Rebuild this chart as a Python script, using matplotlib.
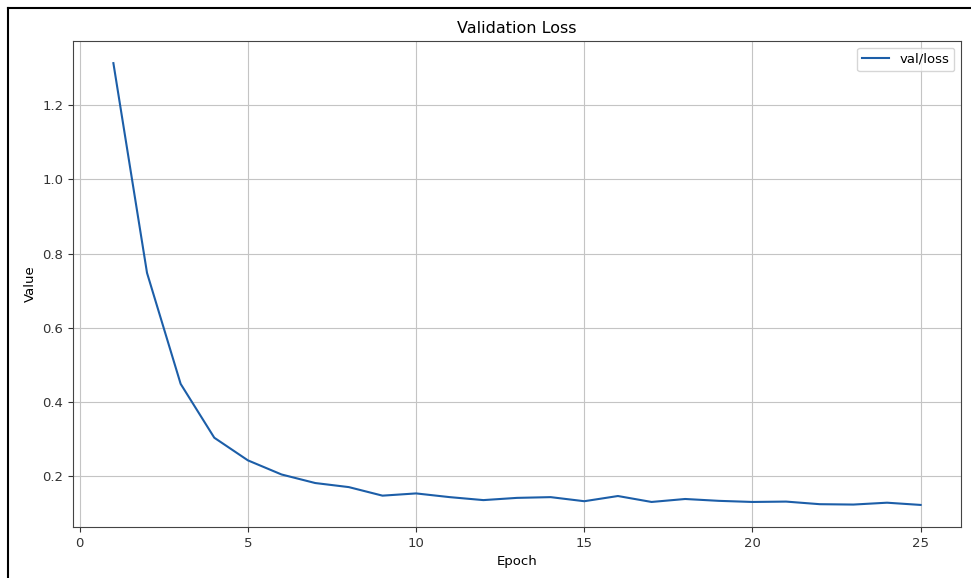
import matplotlib
matplotlib.use("Agg")
import matplotlib.pyplot as plt
from matplotlib.lines import Line2D

epochs = list(range(1, 26))
val_loss = [1.313, 0.748, 0.449, 0.304, 0.243, 0.205, 0.182, 0.171, 0.148, 0.154,
            0.144, 0.136, 0.142, 0.144, 0.133, 0.147, 0.131, 0.139, 0.134, 0.131,
            0.132, 0.125, 0.124, 0.129, 0.123]

fig = plt.figure(figsize=(9.71, 5.78), dpi=100)
ax = fig.add_axes([0.0752, 0.0882, 0.9145, 0.8408])

ax.plot(epochs, val_loss, color="#1c5ea8", linewidth=1.5, label="val/loss")
ax.set_title("Validation Loss", fontsize=11.5)
ax.set_xlabel("Epoch", fontsize=9.5)
ax.set_ylabel("Value", fontsize=9.5)
ax.tick_params(labelsize=9.5, colors="#333333")
ax.grid(True, color="#c4c4c4", linewidth=0.8)
for s in ax.spines.values():
    s.set_color("#444444")
ax.legend(loc="upper right", fontsize=9.5)

# screenshot frame on the left and top edges
fig.add_artist(Line2D([8 / 971, 8 / 971], [0, 1 - 8 / 578], color="black", linewidth=1.5))
fig.add_artist(Line2D([8 / 971, 1], [1 - 8 / 578, 1 - 8 / 578], color="black", linewidth=1.5))

fig.savefig("out.png", dpi=100)
